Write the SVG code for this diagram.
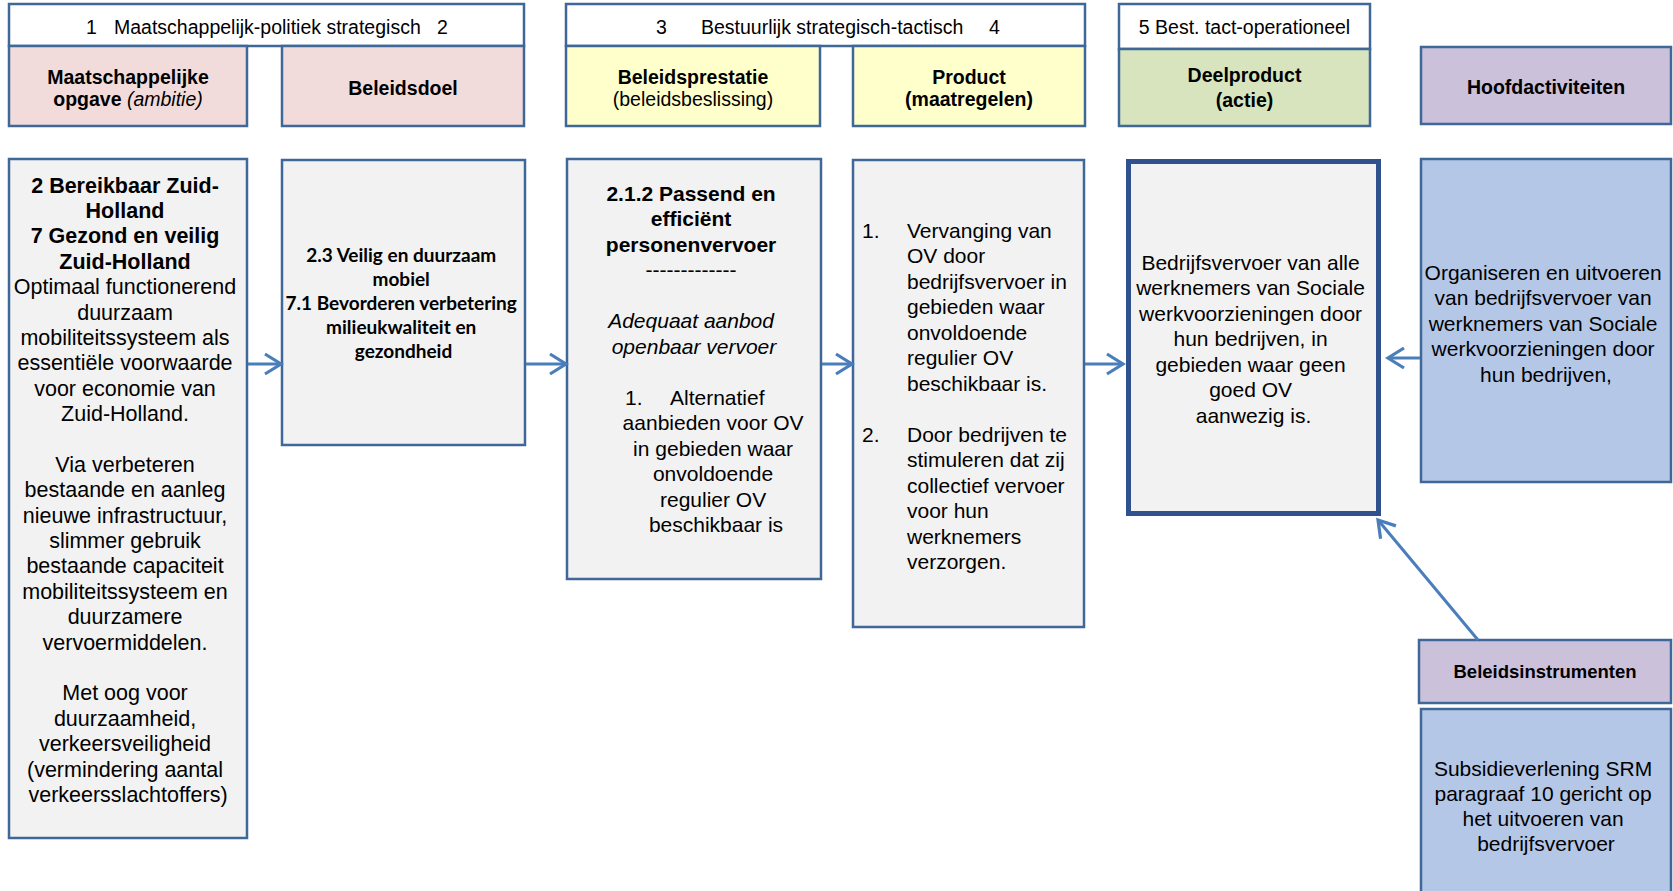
<svg xmlns="http://www.w3.org/2000/svg" width="1673" height="891" viewBox="0 0 1673 891">
<style>
.bx{stroke:#3F6797;stroke-width:2.5}
.hd{fill:#FFFFFF}
.pk{fill:#F2DCDB}
.yl{fill:#FFFFCC}
.gn{fill:#D7E4BD}
.pu{fill:#CCC1DA}
.gr{fill:#F2F2F2}
.bl{fill:#B4C7E7}
.thick{stroke:#2F528F;stroke-width:5}
text{font-family:"Liberation Sans",Arial,sans-serif;fill:#000}
.h{font-size:19.5px}
.lb{font-size:19.5px;font-weight:bold}
.b21{font-size:21px}
.a{font-size:21.5px}
.cal{font-family:Lato,"Liberation Sans",sans-serif;font-size:19px;font-weight:bold}
.c{text-anchor:middle}
.bo{font-weight:bold}
.it{font-style:italic}
.con{stroke:#4A7EBB;stroke-width:3;fill:none}
</style>
<defs>
<marker id="arr" markerUnits="userSpaceOnUse" markerWidth="24" markerHeight="26" refX="19" refY="12" orient="auto">
<path d="M3,2 L19,12 L3,22" fill="none" stroke="#4A7EBB" stroke-width="3.2"/>
</marker>
</defs>

<g id="header-1">
<rect class="bx hd" x="9" y="4" width="515" height="42"/>
<text class="h" y="34" xml:space="preserve"><tspan x="86">1</tspan><tspan x="114">Maatschappelijk-politiek strategisch</tspan><tspan x="437">2</tspan></text>
</g>
<g id="header-3">
<rect class="bx hd" x="566" y="4" width="519" height="42"/>
<text class="h" y="34"><tspan x="656">3</tspan><tspan x="701">Bestuurlijk strategisch-tactisch</tspan><tspan x="989">4</tspan></text>
</g>
<g id="header-5">
<rect class="bx hd" x="1119" y="4" width="251" height="45"/>
<text class="h c" x="1244.5" y="34">5 Best. tact-operationeel</text>
</g>

<g id="maatschappelijke-opgave">
<rect class="bx pk" x="9" y="46" width="238" height="80"/>
<text class="lb c" x="128" y="84">Maatschappelijke</text>
<text class="lb c" x="128" y="106">opgave <tspan font-weight="normal" font-style="italic">(ambitie)</tspan></text>
</g>
<g id="beleidsdoel">
<rect class="bx pk" x="282" y="46" width="242" height="80"/>
<text class="lb c" x="403" y="95">Beleidsdoel</text>
</g>
<g id="beleidsprestatie">
<rect class="bx yl" x="566" y="46" width="254" height="80"/>
<text class="lb c" x="693" y="84">Beleidsprestatie</text>
<text class="h c" x="693" y="106">(beleidsbeslissing)</text>
</g>
<g id="product">
<rect class="bx yl" x="853" y="46" width="232" height="80"/>
<text class="lb c" x="969" y="84">Product</text>
<text class="lb c" x="969" y="106">(maatregelen)</text>
</g>
<g id="deelproduct">
<rect class="bx gn" x="1119" y="49" width="251" height="77"/>
<text class="lb c" x="1244.5" y="82">Deelproduct</text>
<text class="lb c" x="1244.5" y="107">(actie)</text>
</g>
<g id="hoofdactiviteiten">
<rect class="bx pu" x="1421" y="47" width="250" height="77"/>
<text class="lb c" x="1546" y="94">Hoofdactiviteiten</text>
</g>

<g id="box-opgave">
<rect class="bx gr" x="9" y="159" width="238" height="679"/>
<text class="a c">
<tspan class="bo" x="128" y="192.5">2 Bereikbaar Zuid-</tspan>
<tspan class="bo" x="128" dy="25.4">Holland</tspan>
<tspan class="bo" x="128" dy="25.4">7 Gezond en veilig</tspan>
<tspan class="bo" x="128" dy="25.4">Zuid-Holland</tspan>
<tspan x="128" dy="25.4">Optimaal functionerend</tspan>
<tspan x="128" dy="25.4">duurzaam</tspan>
<tspan x="128" dy="25.4">mobiliteitssysteem als</tspan>
<tspan x="128" dy="25.4">essentiële voorwaarde</tspan>
<tspan x="128" dy="25.4">voor economie van</tspan>
<tspan x="128" dy="25.4">Zuid-Holland.</tspan>
<tspan x="128" dy="50.8">Via verbeteren</tspan>
<tspan x="128" dy="25.4">bestaande en aanleg</tspan>
<tspan x="128" dy="25.4">nieuwe infrastructuur,</tspan>
<tspan x="128" dy="25.4">slimmer gebruik</tspan>
<tspan x="128" dy="25.4">bestaande capaciteit</tspan>
<tspan x="128" dy="25.4">mobiliteitssysteem en</tspan>
<tspan x="128" dy="25.4">duurzamere</tspan>
<tspan x="128" dy="25.4">vervoermiddelen.</tspan>
<tspan x="128" dy="50.8">Met oog voor</tspan>
<tspan x="128" dy="25.4">duurzaamheid,</tspan>
<tspan x="128" dy="25.4">verkeersveiligheid</tspan>
<tspan x="128" dy="25.4">(vermindering aantal</tspan>
<tspan x="128" dy="25.4">verkeersslachtoffers)</tspan>
</text>
</g>

<g id="box-beleidsdoel">
<rect class="bx gr" x="282" y="160" width="243" height="285"/>
<text class="cal c">
<tspan x="403.5" y="261.5">2.3 Veilig en duurzaam</tspan>
<tspan x="403.5" dy="24">mobiel</tspan>
<tspan x="403.5" dy="24">7.1 Bevorderen verbetering</tspan>
<tspan x="403.5" dy="24">milieukwaliteit en</tspan>
<tspan x="403.5" dy="24">gezondheid</tspan>
</text>
</g>

<g id="box-beleidsprestatie">
<rect class="bx gr" x="567" y="159" width="254" height="420"/>
<text class="b21 c">
<tspan class="bo" x="694" y="200.5">2.1.2 Passend en</tspan>
<tspan class="bo" x="694" dy="25.5">efficiënt</tspan>
<tspan class="bo" x="694" dy="25.5">personenvervoer</tspan>
<tspan x="694" dy="25.5">-------------</tspan>
<tspan class="it" x="694" dy="51">Adequaat aanbod</tspan>
<tspan class="it" x="694" dy="25.5">openbaar vervoer</tspan>
</text>
<text class="b21" y="404.5"><tspan x="625">1.</tspan><tspan x="670">Alternatief</tspan></text>
<text class="b21 c">
<tspan x="716" y="430">aanbieden voor OV</tspan>
<tspan x="716" dy="25.5">in gebieden waar</tspan>
<tspan x="716" dy="25.5">onvoldoende</tspan>
<tspan x="716" dy="25.5">regulier OV</tspan>
<tspan x="716" dy="25.5">beschikbaar is</tspan>
</text>
</g>

<g id="box-product">
<rect class="bx gr" x="853" y="160" width="231" height="467"/>
<text class="b21">
<tspan x="862" y="237.5">1.</tspan>
<tspan x="862" y="441.5">2.</tspan>
</text>
<text class="b21">
<tspan x="907" y="237.5">Vervanging van</tspan>
<tspan x="907" dy="25.5">OV door</tspan>
<tspan x="907" dy="25.5">bedrijfsvervoer in</tspan>
<tspan x="907" dy="25.5">gebieden waar</tspan>
<tspan x="907" dy="25.5">onvoldoende</tspan>
<tspan x="907" dy="25.5">regulier OV</tspan>
<tspan x="907" dy="25.5">beschikbaar is.</tspan>
<tspan x="907" dy="51">Door bedrijven te</tspan>
<tspan x="907" dy="25.5">stimuleren dat zij</tspan>
<tspan x="907" dy="25.5">collectief vervoer</tspan>
<tspan x="907" dy="25.5">voor hun</tspan>
<tspan x="907" dy="25.5">werknemers</tspan>
<tspan x="907" dy="25.5">verzorgen.</tspan>
</text>
</g>

<g id="box-deelproduct">
<rect class="gr thick" x="1128.5" y="161.5" width="250" height="352"/>
<text class="b21 c">
<tspan x="1253.5" y="269.5">Bedrijfsvervoer van alle</tspan>
<tspan x="1253.5" dy="25.5">werknemers van Sociale</tspan>
<tspan x="1253.5" dy="25.5">werkvoorzieningen door</tspan>
<tspan x="1253.5" dy="25.5">hun bedrijven, in</tspan>
<tspan x="1253.5" dy="25.5">gebieden waar geen</tspan>
<tspan x="1253.5" dy="25.5">goed OV</tspan>
<tspan x="1253.5" dy="25.5">aanwezig is.</tspan>
</text>
</g>

<g id="box-hoofdactiviteiten">
<rect class="bx bl" x="1421" y="159" width="250" height="323"/>
<text class="b21 c">
<tspan x="1546" y="279.5">Organiseren en uitvoeren</tspan>
<tspan x="1546" dy="25.5">van bedrijfsvervoer van</tspan>
<tspan x="1546" dy="25.5">werknemers van Sociale</tspan>
<tspan x="1546" dy="25.5">werkvoorzieningen door</tspan>
<tspan x="1546" dy="25.5">hun bedrijven,</tspan>
</text>
</g>

<g id="beleidsinstrumenten">
<rect class="bx pu" x="1419" y="640" width="252" height="63"/>
<text class="c" x="1545" y="678" font-size="18.5px" font-weight="bold">Beleidsinstrumenten</text>
</g>

<g id="box-beleidsinstrumenten">
<rect class="bx bl" x="1421" y="709" width="250" height="200"/>
<text class="b21 c">
<tspan x="1546" y="775.5">Subsidieverlening SRM</tspan>
<tspan x="1546" dy="25">paragraaf 10 gericht op</tspan>
<tspan x="1546" dy="25">het uitvoeren van</tspan>
<tspan x="1546" dy="25">bedrijfsvervoer</tspan>
</text>
</g>

<g id="connectors">
<line class="con" x1="248" y1="364" x2="281" y2="364" marker-end="url(#arr)"/>
<line class="con" x1="526" y1="364" x2="566" y2="364" marker-end="url(#arr)"/>
<line class="con" x1="822" y1="364" x2="852" y2="364" marker-end="url(#arr)"/>
<line class="con" x1="1085" y1="364" x2="1123" y2="364" marker-end="url(#arr)"/>
<line class="con" x1="1420" y1="358" x2="1388" y2="358" marker-end="url(#arr)"/>
<line class="con" x1="1478" y1="640" x2="1378" y2="520" marker-end="url(#arr)"/>
</g>
</svg>
